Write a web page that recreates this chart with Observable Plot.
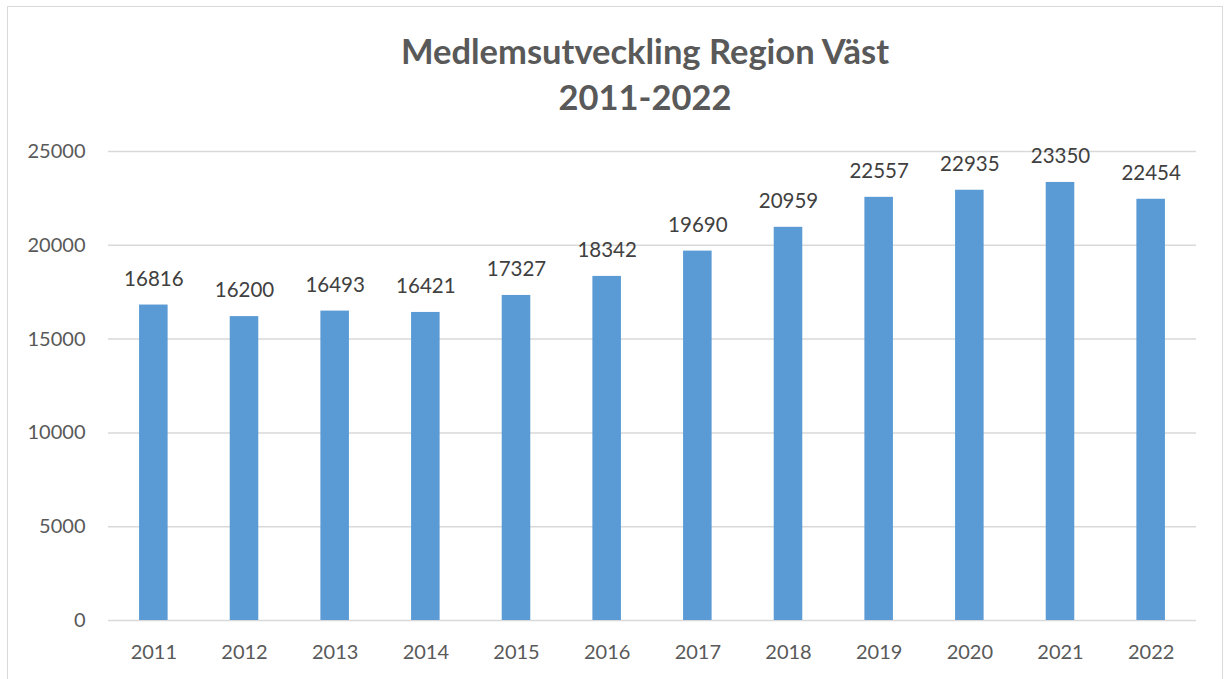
<!DOCTYPE html>
<html>
<head>
<meta charset="utf-8">
<script src="https://cdn.jsdelivr.net/npm/d3@7"></script>
<script src="https://cdn.jsdelivr.net/npm/@observablehq/plot@0.6"></script>
<style>
  html, body { margin: 0; padding: 0; background: #fff; overflow: hidden; }
  #wrap { position: relative; width: 1226px; height: 679px; }
  #frame { position: absolute; left: 7px; top: 6px; width: 1216px; height: 700px; border: 1px solid #d9d9d9; box-sizing: border-box; pointer-events: none; }
  #title { height: 130px; box-sizing: border-box; padding-top: 28px; text-align: center; font-family: Lato, sans-serif; font-weight: bold; font-size: 34.5px; line-height: 46px; color: #595959; }
  #title div { width: 1300px; margin-left: -5px; }
</style>
</head>
<body>
<div id="wrap">
  <div id="frame"></div>
  <div id="title"><div>Medlemsutveckling Region Väst</div><div>2011-2022</div></div>
  <div id="chart"></div>
</div>
<script>
const years = ["2011","2012","2013","2014","2015","2016","2017","2018","2019","2020","2021","2022"];
const members = [16816, 16200, 16493, 16421, 17327, 18342, 19690, 20959, 22557, 22935, 23350, 22454];
const yTicks = [0, 5000, 10000, 15000, 20000, 25000];

const data = years.map((y, i) => ({year: y, value: members[i]}));

const chart = Plot.plot({
  width: 1226,
  height: 549,
  marginTop: 21,
  marginBottom: 59,
  marginLeft: 108,
  marginRight: 30,
  style: {fontFamily: "Lato, sans-serif", fontSize: "20px", color: "#595959", background: "transparent"},
  x: {domain: years, paddingInner: 0.685, paddingOuter: 0.3425, round: false, label: null, tickSize: 0, tickPadding: 24},
  y: {domain: [0, 25000], ticks: yTicks, label: null, tickSize: 0, tickPadding: 23, tickFormat: d => String(d), grid: false},
  marks: [
    Plot.gridY(yTicks, {stroke: "#d9d9d9", strokeOpacity: 1, strokeWidth: 1.5}),
    Plot.barY(data, {x: "year", y: "value", fill: "#5b9bd5"}),
    Plot.text(data, {x: "year", y: "value", text: d => String(d.value), dy: -26, fill: "#404040", fontSize: 20.5}),
    Plot.axisY({ticks: yTicks, tickSize: 0, tickPadding: 23, tickFormat: d => String(d), fill: "#595959"}),
    Plot.axisX({tickSize: 0, tickPadding: 24, fill: "#595959"})
  ]
});
document.getElementById("chart").appendChild(chart);
</script>
</body>
</html>
